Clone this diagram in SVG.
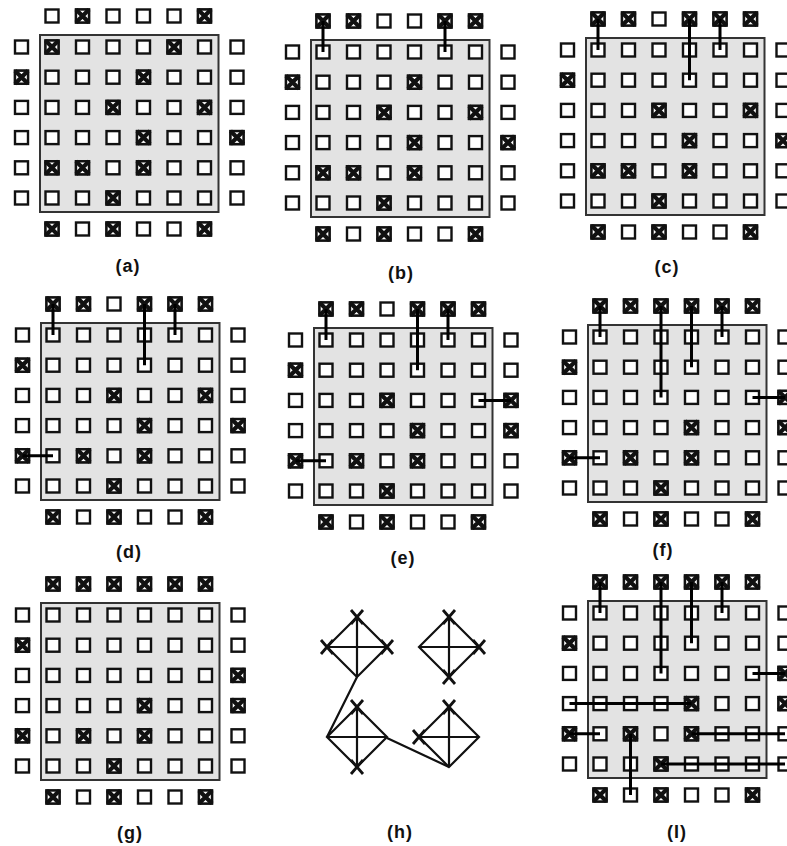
<svg xmlns="http://www.w3.org/2000/svg" width="787" height="846" viewBox="0 0 787 846">
<style>
.bx{fill:#fff;stroke:#111;stroke-width:2.4}
.xx{stroke:#111;stroke-width:4.2;fill:none}
.frame{fill:#e3e3e3;stroke:#333;stroke-width:2}
.wire{stroke:#000;stroke-width:3;fill:none;stroke-linecap:butt}
.lbl{font-family:"Liberation Sans",Arial,sans-serif;font-weight:bold;font-size:18px;fill:#111;text-anchor:middle;letter-spacing:1px}
.dl{stroke:#111;stroke-width:2.2;fill:none}
.vx{stroke:#111;stroke-width:2.8;fill:none}
</style>
<defs>
<rect id="o" class="bx" x="-6.5" y="-6.5" width="13" height="13"/>
<g id="X"><rect class="bx" x="-6.5" y="-6.5" width="13" height="13"/><path class="xx" d="M-6.5,-6.5L6.5,6.5M6.5,-6.5L-6.5,6.5"/></g>
<path id="vx" class="vx" d="M-6,-7L6,7M6,-7L-6,7"/>
<g id="dia"><polygon class="dl" points="0,-30 30,0 0,30 -30,0"/><path class="dl" d="M-30,0H30M0,-30V30"/></g>
<g id="grid">
<rect class="frame" x="-12" y="-12" width="178.5" height="177"/>
<use href="#o" x="0" y="-31"/><use href="#o" x="30.5" y="-31"/><use href="#o" x="61" y="-31"/><use href="#o" x="91.5" y="-31"/><use href="#o" x="122" y="-31"/><use href="#o" x="152.5" y="-31"/>
<use href="#o" x="0" y="182"/><use href="#o" x="30.5" y="182"/><use href="#o" x="61" y="182"/><use href="#o" x="91.5" y="182"/><use href="#o" x="122" y="182"/><use href="#o" x="152.5" y="182"/>
<use href="#o" x="-30.5" y="0"/><use href="#o" x="-30.5" y="30.2"/><use href="#o" x="-30.5" y="60.4"/><use href="#o" x="-30.5" y="90.6"/><use href="#o" x="-30.5" y="120.8"/><use href="#o" x="-30.5" y="151"/>
<use href="#o" x="185" y="0"/><use href="#o" x="185" y="30.2"/><use href="#o" x="185" y="60.4"/><use href="#o" x="185" y="90.6"/><use href="#o" x="185" y="120.8"/><use href="#o" x="185" y="151"/>
<use href="#o" x="0" y="0"/><use href="#o" x="30.5" y="0"/><use href="#o" x="61" y="0"/><use href="#o" x="91.5" y="0"/><use href="#o" x="122" y="0"/><use href="#o" x="152.5" y="0"/>
<use href="#o" x="0" y="30.2"/><use href="#o" x="30.5" y="30.2"/><use href="#o" x="61" y="30.2"/><use href="#o" x="91.5" y="30.2"/><use href="#o" x="122" y="30.2"/><use href="#o" x="152.5" y="30.2"/>
<use href="#o" x="0" y="60.4"/><use href="#o" x="30.5" y="60.4"/><use href="#o" x="61" y="60.4"/><use href="#o" x="91.5" y="60.4"/><use href="#o" x="122" y="60.4"/><use href="#o" x="152.5" y="60.4"/>
<use href="#o" x="0" y="90.6"/><use href="#o" x="30.5" y="90.6"/><use href="#o" x="61" y="90.6"/><use href="#o" x="91.5" y="90.6"/><use href="#o" x="122" y="90.6"/><use href="#o" x="152.5" y="90.6"/>
<use href="#o" x="0" y="120.8"/><use href="#o" x="30.5" y="120.8"/><use href="#o" x="61" y="120.8"/><use href="#o" x="91.5" y="120.8"/><use href="#o" x="122" y="120.8"/><use href="#o" x="152.5" y="120.8"/>
<use href="#o" x="0" y="151"/><use href="#o" x="30.5" y="151"/><use href="#o" x="61" y="151"/><use href="#o" x="91.5" y="151"/><use href="#o" x="122" y="151"/><use href="#o" x="152.5" y="151"/>
</g>
</defs>
<rect width="787" height="846" fill="#fff"/>

<g id="panel-a" transform="translate(52,47)">
<use href="#grid"/>
<use href="#X" x="30.5" y="-31"/><use href="#X" x="152.5" y="-31"/>
<use href="#X" x="0" y="0"/><use href="#X" x="122" y="0"/>
<use href="#X" x="-30.5" y="30.2"/><use href="#X" x="91.5" y="30.2"/>
<use href="#X" x="61" y="60.4"/><use href="#X" x="152.5" y="60.4"/>
<use href="#X" x="91.5" y="90.6"/><use href="#X" x="185" y="90.6"/>
<use href="#X" x="0" y="120.8"/><use href="#X" x="30.5" y="120.8"/><use href="#X" x="91.5" y="120.8"/>
<use href="#X" x="61" y="151"/>
<use href="#X" x="0" y="182"/><use href="#X" x="61" y="182"/><use href="#X" x="152.5" y="182"/>
</g>

<g id="panel-b" transform="translate(323,52)">
<use href="#grid"/>
<use href="#X" x="0" y="-31"/><use href="#X" x="30.5" y="-31"/><use href="#X" x="122" y="-31"/><use href="#X" x="152.5" y="-31"/>
<use href="#X" x="-30.5" y="30.2"/><use href="#X" x="91.5" y="30.2"/>
<use href="#X" x="61" y="60.4"/><use href="#X" x="152.5" y="60.4"/>
<use href="#X" x="91.5" y="90.6"/><use href="#X" x="185" y="90.6"/>
<use href="#X" x="0" y="120.8"/><use href="#X" x="30.5" y="120.8"/><use href="#X" x="91.5" y="120.8"/>
<use href="#X" x="61" y="151"/>
<use href="#X" x="0" y="182"/><use href="#X" x="61" y="182"/><use href="#X" x="152.5" y="182"/>
<g id="wires-b"><path class="wire" d="M0,-31V0M122,-31V0"/></g>
</g>

<g id="panel-c" transform="translate(598,50)">
<use href="#grid"/>
<use href="#X" x="0" y="-31"/><use href="#X" x="30.5" y="-31"/><use href="#X" x="91.5" y="-31"/><use href="#X" x="122" y="-31"/><use href="#X" x="152.5" y="-31"/>
<use href="#X" x="-30.5" y="30.2"/>
<use href="#X" x="61" y="60.4"/><use href="#X" x="152.5" y="60.4"/>
<use href="#X" x="91.5" y="90.6"/><use href="#X" x="185" y="90.6"/>
<use href="#X" x="0" y="120.8"/><use href="#X" x="30.5" y="120.8"/><use href="#X" x="91.5" y="120.8"/>
<use href="#X" x="61" y="151"/>
<use href="#X" x="0" y="182"/><use href="#X" x="61" y="182"/><use href="#X" x="152.5" y="182"/>
<g id="wires-c"><path class="wire" d="M0,-31V0M91.5,-31V30.2M122,-31V0"/></g>
</g>

<g id="panel-d" transform="translate(53,335)">
<use href="#grid"/>
<use href="#X" x="0" y="-31"/><use href="#X" x="30.5" y="-31"/><use href="#X" x="91.5" y="-31"/><use href="#X" x="122" y="-31"/><use href="#X" x="152.5" y="-31"/>
<use href="#X" x="-30.5" y="30.2"/>
<use href="#X" x="61" y="60.4"/><use href="#X" x="152.5" y="60.4"/>
<use href="#X" x="91.5" y="90.6"/><use href="#X" x="185" y="90.6"/>
<use href="#X" x="-30.5" y="120.8"/><use href="#X" x="30.5" y="120.8"/><use href="#X" x="91.5" y="120.8"/>
<use href="#X" x="61" y="151"/>
<use href="#X" x="0" y="182"/><use href="#X" x="61" y="182"/><use href="#X" x="152.5" y="182"/>
<g id="wires-d"><path class="wire" d="M0,-31V0M91.5,-31V30.2M122,-31V0M-30.5,120.8H0"/></g>
</g>

<g id="panel-e" transform="translate(326,340)">
<use href="#grid"/>
<use href="#X" x="0" y="-31"/><use href="#X" x="30.5" y="-31"/><use href="#X" x="91.5" y="-31"/><use href="#X" x="122" y="-31"/><use href="#X" x="152.5" y="-31"/>
<use href="#X" x="-30.5" y="30.2"/>
<use href="#X" x="61" y="60.4"/><use href="#X" x="185" y="60.4"/>
<use href="#X" x="91.5" y="90.6"/><use href="#X" x="185" y="90.6"/>
<use href="#X" x="-30.5" y="120.8"/><use href="#X" x="30.5" y="120.8"/><use href="#X" x="91.5" y="120.8"/>
<use href="#X" x="61" y="151"/>
<use href="#X" x="0" y="182"/><use href="#X" x="61" y="182"/><use href="#X" x="152.5" y="182"/>
<g id="wires-e"><path class="wire" d="M0,-31V0M91.5,-31V30.2M122,-31V0M-30.5,120.8H0M152.5,60.4H185"/></g>
</g>

<g id="panel-f" transform="translate(600,337)">
<use href="#grid"/>
<use href="#X" x="0" y="-31"/><use href="#X" x="30.5" y="-31"/><use href="#X" x="61" y="-31"/><use href="#X" x="91.5" y="-31"/><use href="#X" x="122" y="-31"/><use href="#X" x="152.5" y="-31"/>
<use href="#X" x="-30.5" y="30.2"/>
<use href="#X" x="185" y="60.4"/>
<use href="#X" x="91.5" y="90.6"/><use href="#X" x="185" y="90.6"/>
<use href="#X" x="-30.5" y="120.8"/><use href="#X" x="30.5" y="120.8"/><use href="#X" x="91.5" y="120.8"/>
<use href="#X" x="61" y="151"/>
<use href="#X" x="0" y="182"/><use href="#X" x="61" y="182"/><use href="#X" x="152.5" y="182"/>
<g id="wires-f"><path class="wire" d="M0,-31V0M61,-31V60.4M91.5,-31V30.2M122,-31V0M-30.5,120.8H0M152.5,60.4H185"/></g>
</g>

<g id="panel-g" transform="translate(53,615)">
<use href="#grid"/>
<use href="#X" x="0" y="-31"/><use href="#X" x="30.5" y="-31"/><use href="#X" x="61" y="-31"/><use href="#X" x="91.5" y="-31"/><use href="#X" x="122" y="-31"/><use href="#X" x="152.5" y="-31"/>
<use href="#X" x="-30.5" y="30.2"/>
<use href="#X" x="185" y="60.4"/>
<use href="#X" x="91.5" y="90.6"/><use href="#X" x="185" y="90.6"/>
<use href="#X" x="-30.5" y="120.8"/><use href="#X" x="30.5" y="120.8"/><use href="#X" x="91.5" y="120.8"/>
<use href="#X" x="61" y="151"/>
<use href="#X" x="0" y="182"/><use href="#X" x="61" y="182"/><use href="#X" x="152.5" y="182"/>
</g>

<g id="panel-h">
<use href="#dia" x="357" y="647"/>
<use href="#dia" x="449" y="647"/>
<use href="#dia" x="357" y="737"/>
<use href="#dia" x="449" y="737"/>
<use href="#vx" x="357" y="617"/><use href="#vx" x="327" y="647"/><use href="#vx" x="387" y="647"/>
<use href="#vx" x="449" y="617"/><use href="#vx" x="479" y="647"/><use href="#vx" x="449" y="677"/>
<use href="#vx" x="357" y="707"/><use href="#vx" x="357" y="767"/>
<use href="#vx" x="449" y="707"/><use href="#vx" x="419" y="737"/>
<g id="wires-h"><path class="dl" d="M357,677L327,737M387,738L449,767"/></g>
</g>

<g id="panel-i" transform="translate(600,613)">
<use href="#grid"/>
<use href="#X" x="0" y="-31"/><use href="#X" x="30.5" y="-31"/><use href="#X" x="61" y="-31"/><use href="#X" x="91.5" y="-31"/><use href="#X" x="122" y="-31"/><use href="#X" x="152.5" y="-31"/>
<use href="#X" x="-30.5" y="30.2"/>
<use href="#X" x="185" y="60.4"/>
<use href="#X" x="91.5" y="90.6"/><use href="#X" x="185" y="90.6"/>
<use href="#X" x="-30.5" y="120.8"/><use href="#X" x="30.5" y="120.8"/><use href="#X" x="91.5" y="120.8"/>
<use href="#X" x="61" y="151"/>
<use href="#X" x="0" y="182"/><use href="#X" x="61" y="182"/><use href="#X" x="152.5" y="182"/>
<g id="wires-i"><path class="wire" d="M0,-31V0M61,-31V60.4M91.5,-31V30.2M122,-31V0M-30.5,120.8H0M152.5,60.4H185M-30.5,90.6H91.5M30.5,120.8V182M91.5,120.8H185M61,151H185"/></g>
</g>

<g id="labels">
<text class="lbl" x="128" y="272">(a)</text>
<text class="lbl" x="401" y="279">(b)</text>
<text class="lbl" x="667" y="273">(c)</text>
<text class="lbl" x="129" y="558">(d)</text>
<text class="lbl" x="403" y="564">(e)</text>
<text class="lbl" x="663" y="556">(f)</text>
<text class="lbl" x="130" y="839">(g)</text>
<text class="lbl" x="400" y="838">(h)</text>
<text class="lbl" x="677" y="838">(I)</text>
</g>
</svg>
